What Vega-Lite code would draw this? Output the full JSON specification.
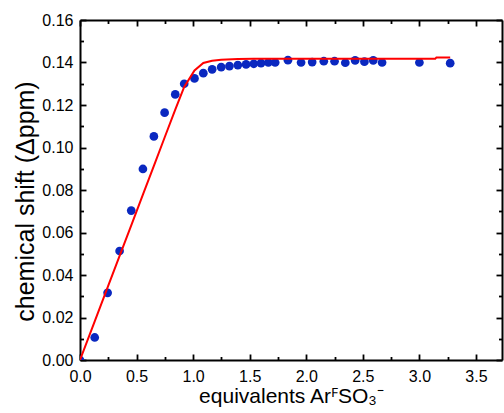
{
  "$schema": "https://vega.github.io/schema/vega-lite/v6.json",
  "width": 422,
  "height": 340,
  "autosize": {"type": "none"},
  "padding": {"left": 80, "top": 20, "right": 2, "bottom": 53},
  "background": "white",
  "config": {
    "view": {"stroke": null},
    "font": "Liberation Sans",
    "axis": {
      "grid": false,
      "domainColor": "black",
      "domainWidth": 2,
      "tickColor": "black",
      "tickWidth": 1.8,
      "labelColor": "black",
      "labelFont": "Liberation Sans",
      "labelFontSize": 16,
      "labelFlush": false,
      "labelOverlap": false,
      "titleColor": "black",
      "titleFont": "Liberation Sans",
      "titleFontWeight": "normal"
    }
  },
  "datasets": {
    "obs": [
      {"x": 0, "y": 0},
      {"x": 0.13, "y": 0.0106},
      {"x": 0.244, "y": 0.0316},
      {"x": 0.35, "y": 0.0513},
      {"x": 0.453, "y": 0.0703},
      {"x": 0.556, "y": 0.0899},
      {"x": 0.653, "y": 0.1052},
      {"x": 0.748, "y": 0.1164},
      {"x": 0.842, "y": 0.125},
      {"x": 0.921, "y": 0.13},
      {"x": 1.012, "y": 0.1325},
      {"x": 1.09, "y": 0.135},
      {"x": 1.168, "y": 0.1368},
      {"x": 1.248, "y": 0.1378},
      {"x": 1.321, "y": 0.1383},
      {"x": 1.395, "y": 0.1388},
      {"x": 1.468, "y": 0.1391},
      {"x": 1.536, "y": 0.1394},
      {"x": 1.6, "y": 0.1397},
      {"x": 1.665, "y": 0.14},
      {"x": 1.725, "y": 0.14},
      {"x": 1.838, "y": 0.1411},
      {"x": 1.954, "y": 0.14},
      {"x": 2.052, "y": 0.1402},
      {"x": 2.155, "y": 0.1406},
      {"x": 2.25, "y": 0.1406},
      {"x": 2.345, "y": 0.1399},
      {"x": 2.432, "y": 0.141},
      {"x": 2.514, "y": 0.1404},
      {"x": 2.592, "y": 0.141},
      {"x": 2.67, "y": 0.14},
      {"x": 3.0, "y": 0.14},
      {"x": 3.272, "y": 0.1397}
    ],
    "fit": [
      {"x": 0, "y": 0},
      {"x": 0.13, "y": 0.0182},
      {"x": 0.244, "y": 0.0342},
      {"x": 0.35, "y": 0.049},
      {"x": 0.453, "y": 0.0634},
      {"x": 0.556, "y": 0.0778},
      {"x": 0.653, "y": 0.0914},
      {"x": 0.748, "y": 0.1047},
      {"x": 0.842, "y": 0.1178},
      {"x": 0.921, "y": 0.1285},
      {"x": 1.012, "y": 0.1363},
      {"x": 1.09, "y": 0.1398},
      {"x": 1.168, "y": 0.1408},
      {"x": 1.248, "y": 0.1413},
      {"x": 1.395, "y": 0.1417},
      {"x": 1.536, "y": 0.1418},
      {"x": 2.0, "y": 0.1418},
      {"x": 2.67, "y": 0.1418},
      {"x": 3.0, "y": 0.1418},
      {"x": 3.14, "y": 0.1418},
      {"x": 3.15, "y": 0.1423},
      {"x": 3.272, "y": 0.1423}
    ]
  },
  "layer": [
    {
      "data": {"name": "obs"},
      "mark": {"type": "circle", "size": 76, "color": "#0a28c0", "opacity": 1, "clip": true},
      "encoding": {
        "x": {
          "field": "x", "type": "quantitative",
          "scale": {"domain": [0, 3.73], "nice": false, "zero": false},
          "axis": {
            "orient": "bottom",
            "values": [0, 0.5, 1, 1.5, 2, 2.5, 3, 3.5],
            "format": ".1f",
            "tickSize": -6,
            "labelPadding": 14,
            "title": "equivalents ArꟳSO₃⁻",
            "titleFontSize": 21,
            "titleBaseline": "alphabetic",
            "titleY": 42
          }
        },
        "y": {
          "field": "y", "type": "quantitative",
          "scale": {"domain": [0, 0.16], "nice": false, "zero": false},
          "axis": {
            "orient": "left",
            "values": [0, 0.02, 0.04, 0.06, 0.08, 0.1, 0.12, 0.14, 0.16],
            "format": ".2f",
            "tickSize": -6,
            "labelPadding": 13,
            "title": "chemical shift (Δppm)",
            "titleFontSize": 25,
            "titleBaseline": "alphabetic",
            "titleAlign": "center",
            "titleAngle": -90,
            "titleX": -47,
            "titleY": 181
          }
        }
      }
    },
    {
      "data": {"name": "obs"},
      "mark": {"type": "circle", "size": 72, "opacity": 0},
      "encoding": {
        "x": {
          "field": "x", "type": "quantitative",
          "axis": {
            "orient": "bottom",
            "values": [0.25, 0.75, 1.25, 1.75, 2.25, 2.75, 3.25],
            "tickSize": -3.5,
            "labels": false,
            "domain": false,
            "title": null
          }
        },
        "y": {
          "field": "y", "type": "quantitative",
          "axis": {
            "orient": "left",
            "values": [0.01, 0.03, 0.05, 0.07, 0.09, 0.11, 0.13, 0.15],
            "tickSize": -3.5,
            "labels": false,
            "domain": false,
            "title": null
          }
        }
      }
    },
    {
      "data": {"name": "obs"},
      "mark": {"type": "circle", "size": 72, "opacity": 0},
      "encoding": {
        "x": {
          "field": "x", "type": "quantitative",
          "axis": {
            "orient": "top",
            "values": [0.25, 0.75, 1.25, 1.75, 2.25, 2.75, 3.25],
            "tickSize": -3.5,
            "labels": false,
            "domain": false,
            "title": null
          }
        },
        "y": {
          "field": "y", "type": "quantitative",
          "axis": {
            "orient": "right",
            "values": [0.01, 0.03, 0.05, 0.07, 0.09, 0.11, 0.13, 0.15],
            "tickSize": -3.5,
            "labels": false,
            "domain": false,
            "title": null
          }
        }
      }
    },
    {
      "data": {"name": "fit"},
      "mark": {"type": "line", "color": "#ff0000", "strokeWidth": 2, "clip": true},
      "encoding": {
        "x": {
          "field": "x", "type": "quantitative",
          "axis": {
            "orient": "top",
            "values": [0, 0.5, 1, 1.5, 2, 2.5, 3, 3.5],
            "tickSize": -6,
            "labels": false,
            "title": null
          }
        },
        "y": {
          "field": "y", "type": "quantitative",
          "axis": {
            "orient": "right",
            "values": [0, 0.02, 0.04, 0.06, 0.08, 0.1, 0.12, 0.14, 0.16],
            "tickSize": -6,
            "labels": false,
            "title": null
          }
        }
      }
    }
  ],
  "resolve": {"axis": {"x": "independent", "y": "independent"}}
}
